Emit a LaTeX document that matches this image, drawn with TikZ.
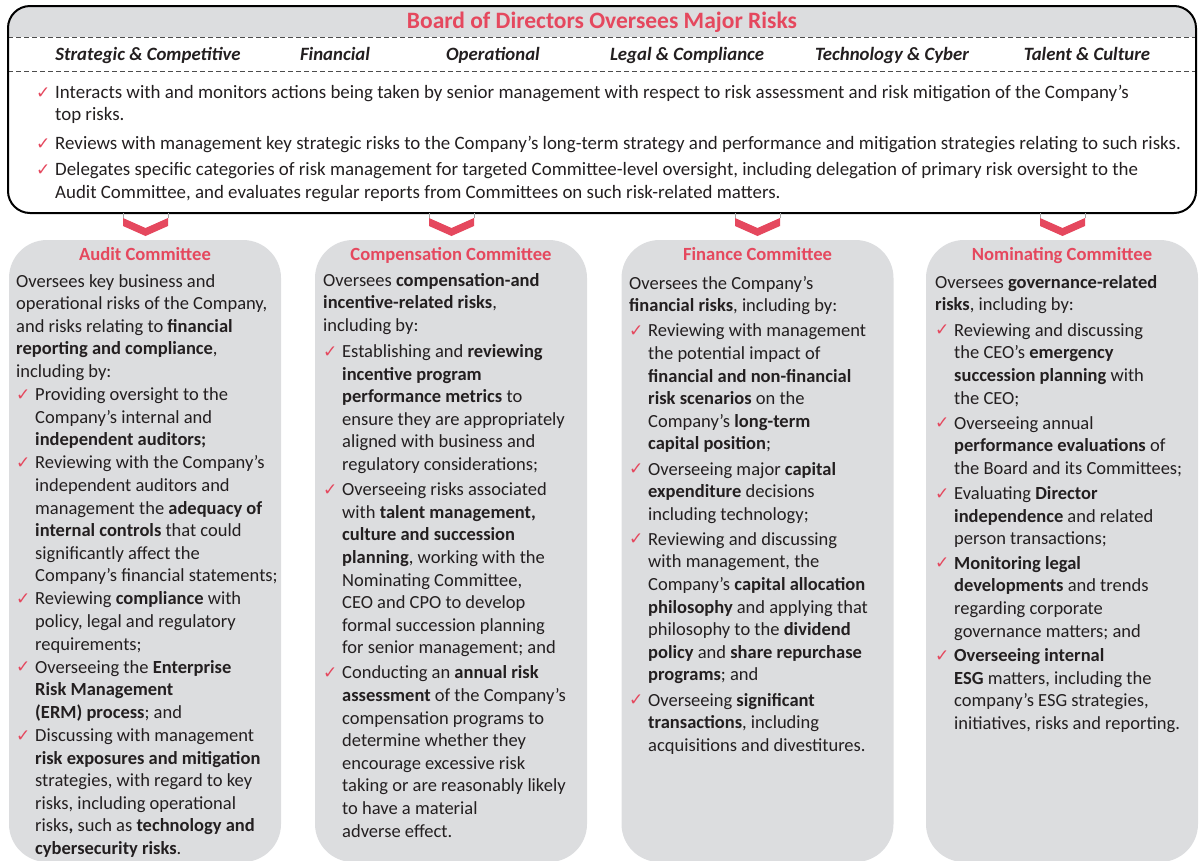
\documentclass[tikz,border=0pt]{standalone}
\usepackage{fontspec}
\setmainfont{Carlito}
\newfontfamily\symfont{DejaVu Sans}
\definecolor{riskred}{RGB}{229,72,94}
\definecolor{boxgray}{RGB}{220,221,223}
\definecolor{inkgray}{RGB}{35,31,32}
\newcommand\chk{\makebox[19pt][l]{\raisebox{0.5pt}{\symfont\fontsize{17}{17}\selectfont\textcolor{riskred}{✓}}}}
\newcommand\ind{\makebox[19pt]{}}
\begin{document}
\begin{tikzpicture}[x=1pt, y=-1pt,
  bodytext/.style={anchor=north west, inner sep=0pt, align=left, text=inkgray, font=\fontsize{18.5}{22.6}\selectfont},
  cattext/.style={anchor=base, inner sep=0pt, text=inkgray, font=\fontsize{18.8}{21}\selectfont\bfseries\itshape},
  comhead/.style={anchor=base, inner sep=0pt, text=riskred, font=\fontsize{18.6}{21}\selectfont\bfseries},
  combox/.style={fill=boxgray, rounded corners=38pt, inner sep=0pt, minimum width=272pt, minimum height=622pt},
  catline/.style={dash pattern=on 5pt off 3pt, line width=0.8pt, black!70}]
\useasboundingbox (0,0) rectangle (1199,860);
%Board box
\begin{scope}
\clip[rounded corners=22pt] (8,6) rectangle (1196,213);
\fill[boxgray] (8,6) rectangle (1196,37);
\end{scope}
\draw[catline] (8,37) -- (1196,37);
\draw[catline] (8,71) -- (1196,71);
\draw[line width=2pt, rounded corners=22pt] (8,6) rectangle (1196,213);
\node[anchor=base, inner sep=0pt, text=riskred, font=\fontsize{23.5}{26}\selectfont\bfseries] (board) at (602,28) {Board of Directors Oversees Major Risks};
\node[cattext] (strategic) at (148,60) {Strategic \& Competitive};
\node[cattext] (financial) at (335,60) {Financial};
\node[cattext] (operational) at (493,60) {Operational};
\node[cattext] (legal) at (687,60) {Legal \& Compliance};
\node[cattext] (tech) at (892,60) {Technology \& Cyber};
\node[cattext] (talent) at (1087,60) {Talent \& Culture};
\node[bodytext, font=\fontsize{18.9}{22.4}\selectfont] (duties) at (36,85) {\chk Interacts with and monitors actions being taken by senior management with respect to risk assessment and risk mitigation of the Company’s\\
\ind top risks.\\[6.5pt]
\chk Reviews with management key strategic risks to the Company’s long-term strategy and performance and mitigation strategies relating to such risks.\\[3.5pt]
\chk Delegates specific categories of risk management for targeted Committee-level oversight, including delegation of primary risk oversight to the\\
\ind Audit Committee, and evaluates regular reports from Committees on such risk-related matters.};
%Chevrons
\draw[black!35, line width=0.6pt] (123,213) -- (123,218) (168,213) -- (168,218);
\fill[riskred] (123,218) -- (145.5,228) -- (168,218) -- (168,226) -- (145.5,236) -- (123,226) -- cycle;
\draw[black!35, line width=0.6pt] (429,213) -- (429,218) (474,213) -- (474,218);
\fill[riskred] (429,218) -- (451.5,228) -- (474,218) -- (474,226) -- (451.5,236) -- (429,226) -- cycle;
\draw[black!35, line width=0.6pt] (735,213) -- (735,218) (780,213) -- (780,218);
\fill[riskred] (735,218) -- (757.5,228) -- (780,218) -- (780,226) -- (757.5,236) -- (735,226) -- cycle;
\draw[black!35, line width=0.6pt] (1040,213) -- (1040,218) (1085,213) -- (1085,218);
\fill[riskred] (1040,218) -- (1062.5,228) -- (1085,218) -- (1085,226) -- (1062.5,236) -- (1040,226) -- cycle;
%Committees
\node[combox] (audit) at (145,551) {};
\node[combox] (comp) at (451,551) {};
\node[combox] (finance) at (757.5,551) {};
\node[combox] (nominating) at (1062,551) {};
\node[comhead] (audithead) at (145,260) {Audit Committee};
\node[comhead] (comphead) at (451,260) {Compensation Committee};
\node[comhead] (financehead) at (757.5,260) {Finance Committee};
\node[comhead] (nominatinghead) at (1062,260) {Nominating Committee};
\node[bodytext] (audittext) at (16,274) {Oversees key business and\\
operational risks of the Company,\\
and risks relating to \textbf{financial}\\
\textbf{reporting and compliance},\\
including by:\\[0.5pt]
\chk Providing oversight to the\\
\ind Company’s internal and\\
\ind \textbf{independent auditors;}\\[0.5pt]
\chk Reviewing with the Company’s\\
\ind independent auditors and\\
\ind management the \textbf{adequacy of}\\
\ind \textbf{internal controls} that could\\
\ind significantly affect the\\
\ind Company’s financial statements;\\[0.5pt]
\chk Reviewing \textbf{compliance} with\\
\ind policy, legal and regulatory\\
\ind requirements;\\[0.5pt]
\chk Overseeing the \textbf{Enterprise}\\
\ind \textbf{Risk Management}\\
\ind \textbf{(ERM) process}; and\\[0.5pt]
\chk Discussing with management\\
\ind \textbf{risk exposures and mitigation}\\
\ind strategies, with regard to key\\
\ind risks, including operational\\
\ind risks\textbf{,} such as \textbf{technology and}\\
\ind \textbf{cybersecurity risks}.};
\node[bodytext] (comptext) at (323,273) {Oversees \textbf{compensation-and}\\
\textbf{incentive-related risks},\\
including by:\\[3.5pt]
\chk Establishing and \textbf{reviewing}\\
\ind \textbf{incentive program}\\
\ind \textbf{performance metrics} to\\
\ind ensure they are appropriately\\
\ind aligned with business and\\
\ind regulatory considerations;\\[2.5pt]
\chk Overseeing risks associated\\
\ind with \textbf{talent management,}\\
\ind \textbf{culture and succession}\\
\ind \textbf{planning}, working with the\\
\ind Nominating Committee,\\
\ind CEO and CPO to develop\\
\ind formal succession planning\\
\ind for senior management; and\\[2.5pt]
\chk Conducting an \textbf{annual risk}\\
\ind \textbf{assessment} of the Company’s\\
\ind compensation programs to\\
\ind determine whether they\\
\ind encourage excessive risk\\
\ind taking or are reasonably likely\\
\ind to have a material\\
\ind adverse effect.};
\node[bodytext] (financetext) at (629,276) {Oversees the Company’s\\
\textbf{financial risks}, including by:\\[2.5pt]
\chk Reviewing with management\\
\ind the potential impact of\\
\ind \textbf{financial and non-financial}\\
\ind \textbf{risk scenarios} on the\\
\ind Company’s \textbf{long-term}\\
\ind \textbf{capital position};\\[2.5pt]
\chk Overseeing major \textbf{capital}\\
\ind \textbf{expenditure} decisions\\
\ind including technology;\\[2.5pt]
\chk Reviewing and discussing\\
\ind with management, the\\
\ind Company’s \textbf{capital allocation}\\
\ind \textbf{philosophy} and applying that\\
\ind philosophy to the \textbf{dividend}\\
\ind \textbf{policy} and \textbf{share repurchase}\\
\ind \textbf{programs}; and\\[2.5pt]
\chk Overseeing \textbf{significant}\\
\ind \textbf{transactions}, including\\
\ind acquisitions and divestitures.};
\node[bodytext] (nominatingtext) at (935,275) {Oversees \textbf{governance-related}\\
\textbf{risks}, including by:\\[3pt]
\chk Reviewing and discussing\\
\ind the CEO’s \textbf{emergency}\\
\ind \textbf{succession planning} with\\
\ind the CEO;\\[2.5pt]
\chk Overseeing annual\\
\ind \textbf{performance evaluations} of\\
\ind the Board and its Committees;\\[2.5pt]
\chk Evaluating \textbf{Director}\\
\ind \textbf{independence} and related\\
\ind person transactions;\\[2pt]
\chk \textbf{Monitoring legal}\\
\ind \textbf{developments} and trends\\
\ind regarding corporate\\
\ind governance matters; and\\[2pt]
\chk \textbf{Overseeing internal}\\
\ind \textbf{ESG} matters, including the\\
\ind company’s ESG strategies,\\
\ind initiatives, risks and reporting.};
\end{tikzpicture}
\end{document}
